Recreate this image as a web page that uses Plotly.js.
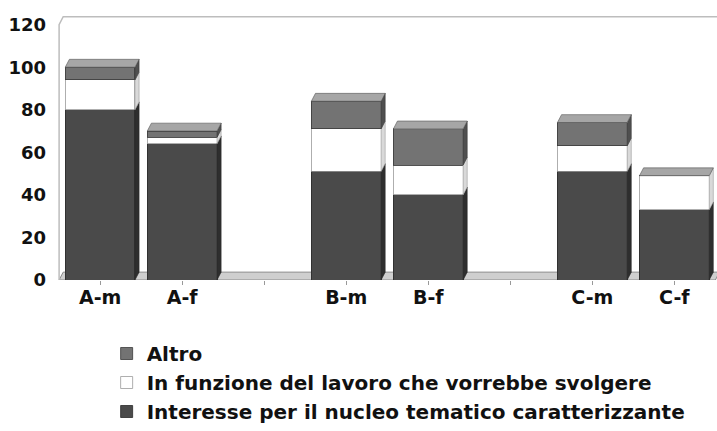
<!DOCTYPE html>
<html><head><meta charset="utf-8">
<script src="https://cdn.plot.ly/plotly-3.0.1.min.js"></script>
<style>html,body{margin:0;padding:0;background:#fff}#c{width:717px;height:431px}</style>
</head><body><div id="c"></div>
<script>
const categories = ["A-m","A-f","B-m","B-f","C-m","C-f"];
const seriesNames = ["Interesse per il nucleo tematico caratterizzante","In funzione del lavoro che vorrebbe svolgere","Altro"];
const interesse = [80, 64, 51, 40, 51, 33];
const lavoro    = [14, 3, 20, 14, 12, 16];
const altro     = [6, 3, 13, 17, 11, 0];
const yTicks = [0,20,40,60,80,100,120];

const series = [interesse, lavoro, altro];
const frontColors = ["#4a4a4a", "#ffffff", "#737373"];
const sideColors  = ["#2e2e2e", "#d9d9d9", "#4f4f4f"];
const lineColors  = ["#2a2a2a", "#9a9a9a", "#3a3a3a"];
const topColor = "#a6a6a6";

// slot position: pairs separated by an empty slot
const slot = categories.map((c,i)=> i + Math.floor(i/2));
const nSlots = slot[slot.length-1] + 1;
const tickvals = [], ticktext = [];
for (let s=0; s<nSlots; s++){ tickvals.push(s); const k = slot.indexOf(s); ticktext.push(k>=0 ? categories[k] : ""); }

const W = 0.85, DX = 0.05, DY = 3.7;
const FONT = {family:"'DejaVu Sans', sans-serif", size:20, color:"#111", weight:"bold"};

const traces = series.map((vals, j) => ({
  type:"bar", x: slot, y: vals, name: seriesNames[j], width: W,
  marker:{color: frontColors[j], line:{color: lineColors[j], width: 0.8}},
  hoverinfo:"skip"
}));

const shapes = [];
// floor
shapes.push({type:"path", xref:"x", yref:"y", layer:"below",
  path:`M ${-0.5},0 L ${-0.5+DX},${DY} L ${nSlots-0.5+DX},${DY} L ${nSlots-0.5},0 Z`,
  fillcolor:"#cfcfcf", line:{color:"#8a8a8a", width:1}});
// walls
shapes.push({type:"path", xref:"x", yref:"y", layer:"below",
  path:`M ${-0.5},0 L ${-0.5},120 L ${-0.5+DX},${120+DY} L ${nSlots-0.5+DX},${120+DY}`,
  line:{color:"#bdbdbd", width:1.5}});
// 3D side and top faces computed from the data
categories.forEach((c,i)=>{
  const xs = slot[i], xR = xs + W/2, xL = xs - W/2;
  let base = 0;
  series.forEach((vals,j)=>{
    const top = base + vals[i];
    if (vals[i] > 0){
      shapes.push({type:"path", xref:"x", yref:"y", layer:"above",
        path:`M ${xR},${base} L ${xR+DX},${base+DY} L ${xR+DX},${top+DY} L ${xR},${top} Z`,
        fillcolor: sideColors[j], line:{color: lineColors[j], width:0.6}});
    }
    base = top;
  });
  shapes.push({type:"path", xref:"x", yref:"y", layer:"above",
    path:`M ${xL},${base} L ${xL+DX},${base+DY} L ${xR+DX},${base+DY} L ${xR},${base} Z`,
    fillcolor: topColor, line:{color:"#555", width:0.6}});
});

const layout = {
  width:717, height:431, paper_bgcolor:"#fff", plot_bgcolor:"#fff",
  margin:{l:55, r:0, t:14, b:148},
  barmode:"stack", showlegend:true,
  xaxis:{range:[-0.55, nSlots-0.48], tickvals, ticktext, ticks:"outside", ticklen:4, tickcolor:"#999",
         showgrid:false, zeroline:false, showline:false, tickfont:{...FONT, size:19}, ticklabelstandoff:-4, fixedrange:true},
  yaxis:{range:[0,125], tickvals:yTicks, ticktext:yTicks.map(String), showgrid:false, zeroline:false,
         showline:false, ticks:"", tickfont:{...FONT, size:18}, ticklabelstandoff:8, fixedrange:true},
  legend:{x:0.078, y:-0.205, xanchor:"left", yanchor:"top", traceorder:"reversed",
          font:FONT, tracegroupgap:0, itemwidth:30, bgcolor:"rgba(0,0,0,0)"},
  shapes
};
Plotly.newPlot("c", traces, layout, {staticPlot:true, displayModeBar:false});
</script></body></html>
